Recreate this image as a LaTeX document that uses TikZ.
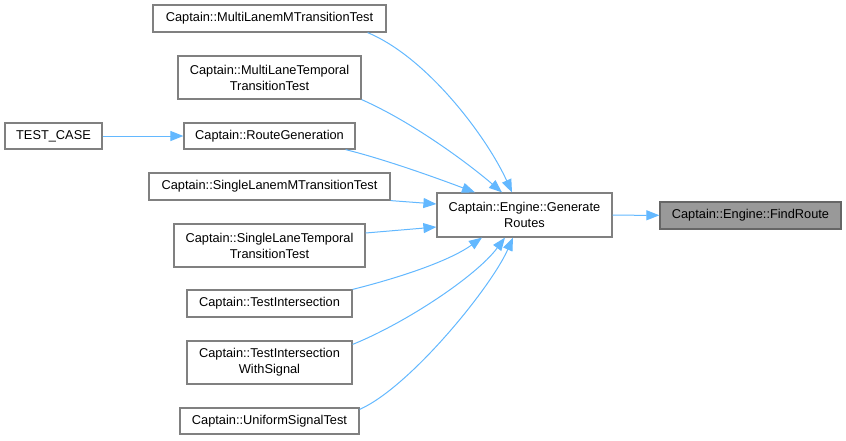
\documentclass[tikz,border=0pt]{standalone}
\usepackage{fontspec}
\setmainfont{Liberation Sans}
\usepackage{xcolor}
\usepackage{tikz}
\usetikzlibrary{arrows.meta}

\definecolor{edgeblue}{HTML}{63B8FF}
\definecolor{boxgray}{HTML}{808080}
\definecolor{hlgray}{HTML}{999999}

\begin{document}
\begin{tikzpicture}[
  x=1pt, y=-1pt,
  fn/.style={draw=boxgray, line width=1.2pt, fill=white, align=center, inner sep=0pt,
    font=\fontsize{12.8}{16}\selectfont, minimum height=27pt},
  fn2/.style={fn, minimum height=43pt},
  cur/.style={fn, fill=hlgray, draw=black!60},
  call/.style={draw=edgeblue, line width=1pt, -{Triangle[length=13pt,width=10pt]}}
]
\useasboundingbox (0,0) rectangle (846,440);

\node[fn, minimum width=233pt] (mlm) at (269.5,18.5) {Captain::MultiLanemMTransitionTest};
\node[fn2, minimum width=183pt] (mlt) at (269.5,77.5) {Captain::MultiLaneTemporal\\TransitionTest};
\node[fn, minimum width=97pt, minimum height=26pt] (tc) at (53.5,136) {TEST\_CASE};
\node[fn, minimum width=171pt, minimum height=26pt] (rg) at (269.5,136) {Captain::RouteGeneration};
\node[fn, minimum width=241pt] (slm) at (269.5,186.5) {Captain::SingleLanemMTransitionTest};
\node[fn2, minimum width=191pt] (slt) at (269.5,245.5) {Captain::SingleLaneTemporal\\TransitionTest};
\node[fn, minimum width=165pt] (ti) at (269.5,303.5) {Captain::TestIntersection};
\node[fn2, minimum width=165pt] (tiws) at (269.5,362.5) {Captain::TestIntersection\\WithSignal};
\node[fn, minimum width=179pt, minimum height=26pt] (ust) at (269.5,421) {Captain::UniformSignalTest};
\node[fn2, minimum width=175pt, minimum height=44pt] (gr) at (524.5,215) {Captain::Engine::Generate\\Routes};
\node[cur, minimum width=181pt] (fr) at (750.5,215.5) {Captain::Engine::FindRoute};

\draw[call] (tc) -- (rg);
\draw[call] (gr) -- (fr);
\draw[call] ([xshift=-19pt]mlm.south east) .. controls +(60,25) and +(-25,-55) .. ([xshift=-12.5pt]gr.north);
\draw[call] (mlt.south east) .. controls +(50,22) and +(-35,-30) .. ([xshift=-22.5pt]gr.north);
\draw[call] ([xshift=-10pt]rg.south east) .. controls +(40,10) and +(-40,-15) .. ([xshift=-49.5pt]gr.north);
\draw[call] (slm.south east) -- ([yshift=11pt]gr.west);
\draw[call] ([yshift=12.5pt]slt.east) -- ([yshift=-12pt]gr.west);
\draw[call] (ti.north east) .. controls +(40,-10) and +(-35,25) .. ([xshift=-42.5pt]gr.south);
\draw[call] ([yshift=-4pt]tiws.north east) .. controls +(50,-20) and +(-30,40) .. ([xshift=-19.5pt]gr.south);
\draw[call] ([yshift=-2pt]ust.north east) .. controls +(50,-22) and +(-22,50) .. ([xshift=-11.5pt]gr.south);
\end{tikzpicture}
\end{document}
